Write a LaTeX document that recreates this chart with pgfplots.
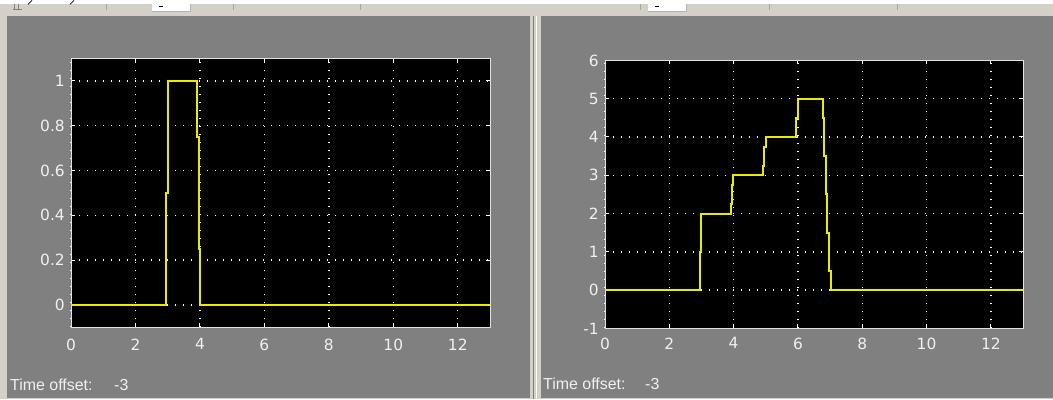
\documentclass[border=0pt]{standalone}
\usepackage{pgfplots}
\pgfplotsset{compat=1.18}
\usepackage{fontspec}
\setmainfont{Liberation Sans}
\newfontfamily\tickfont{DejaVu Sans}

\definecolor{winface}{RGB}{212,208,200}
\definecolor{scopegray}{RGB}{128,128,128}
\definecolor{labelgray}{RGB}{240,240,240}
\definecolor{framegray}{RGB}{225,225,225}
\definecolor{traceyellow}{RGB}{235,235,0}

\pgfplotsset{
  scopeaxis/.style={
    scale only axis,
    anchor=south west,
    axis background/.style={fill=black},
    axis line style={draw=framegray, line width=1bp},
    xmin=0, xmax=13,
    xtick={0,2,4,6,8,10,12},
    xticklabels={0,2,4,6,8,10,12},
    grid=major,
    major grid style={white, line width=1.4bp, dash pattern=on 1.4bp off 6.6bp},
    tick align=inside,
    major tick length=4bp,
    tick style={white, line width=1bp},
    ticklabel style={font=\tickfont\fontsize{15.5}{18}\selectfont, text=labelgray, inner sep=0pt},
    yticklabel style={anchor=east, xshift=-6bp},
    xticklabel style={anchor=north},
  },
  scopetrace/.style={draw=traceyellow, line width=2bp, line join=miter},
}

\begin{document}
\begin{tikzpicture}[x=1bp,y=1bp]
  % window frame
  \fill[winface] (0,0) rectangle (1053,399);
  \fill[white] (0,395) rectangle (1053,399);
  % toolbar bits
  \draw[black, line width=0.8bp] (28,395) -- (32,399);
  \draw[black, line width=0.8bp] (70,395) -- (74,399);
  \draw[gray, line width=1bp] (14,390) -- (14,395) (18,390) -- (18,395) (13,390) -- (22,390);
  \foreach \xx in {106,233,360,640,769,897} \draw[gray!70, line width=1bp] (\xx,389) -- (\xx,395);
  \fill[white] (152,388) rectangle (190,395);
  \draw[gray!60] (152,388) -- (190,388) -- (190,395);
  \fill[black] (159,392) rectangle (163,393.5);
  \fill[white] (648,388) rectangle (686,395);
  \draw[gray!60] (648,388) -- (686,388) -- (686,395);
  \fill[black] (655,392) rectangle (659,393.5);
  % splitter
  \fill[scopegray] (533,0) rectangle (534,383);
  \fill[white] (536,0) rectangle (537,383);
  % scope panels
  \fill[scopegray] (7,1.5) rectangle (530,383);
  \fill[scopegray] (541,1.5) rectangle (1053,383);

  % left scope
  \begin{axis}[scopeaxis,
      at={(71bp,72bp)}, width=419bp, height=269bp,
      ymin=-0.1, ymax=1.1,
      ytick={0,0.2,0.4,0.6,0.8,1},
      yticklabels={0,0.2,0.4,0.6,0.8,1},
      xticklabel style={yshift=-11bp}]
    \addplot[scopetrace] coordinates {
      (0,0) (2.95,0) (2.95,0.5) (3.0,0.5) (3.0,1) (3.92,1)
      (3.92,0.75) (3.96,0.75) (3.96,0.25) (4.0,0.25) (4.0,0) (13,0)};
  \end{axis}

  % right scope
  \begin{axis}[scopeaxis,
      at={(605bp,71bp)}, width=418bp, height=268bp,
      ymin=-1, ymax=6,
      ytick={-1,0,1,2,3,4,5,6},
      yticklabels={-1,0,1,2,3,4,5,6},
      xticklabel style={yshift=-9bp}]
    \addplot[scopetrace] coordinates {
      (0,0) (2.95,0) (2.95,1) (3.0,1) (3.0,2) (3.91,2)
      (3.91,2.25) (3.95,2.25) (3.95,2.75) (3.99,2.75) (3.99,3) (4.9,3)
      (4.9,3.25) (4.95,3.25) (4.95,3.75) (5.0,3.75) (5.0,4) (5.94,4)
      (5.94,4.5) (6.0,4.5) (6.0,5) (6.77,5) (6.77,4.5) (6.81,4.5)
      (6.81,3.5) (6.86,3.5) (6.86,2.5) (6.91,2.5) (6.91,1.5) (6.97,1.5)
      (6.97,0.5) (7.02,0.5) (7.02,0) (13,0)};
  \end{axis}

  % status text
  \begin{scope}[every node/.style={anchor=base west, inner sep=0pt, text=labelgray,
      font=\fontsize{16}{18}\selectfont}]
    \node at (10,9) {Time offset:};
    \node at (114,9) {-3};
    \node at (543,10) {Time offset:};
    \node at (645,10) {-3};
  \end{scope}
\end{tikzpicture}
\end{document}
